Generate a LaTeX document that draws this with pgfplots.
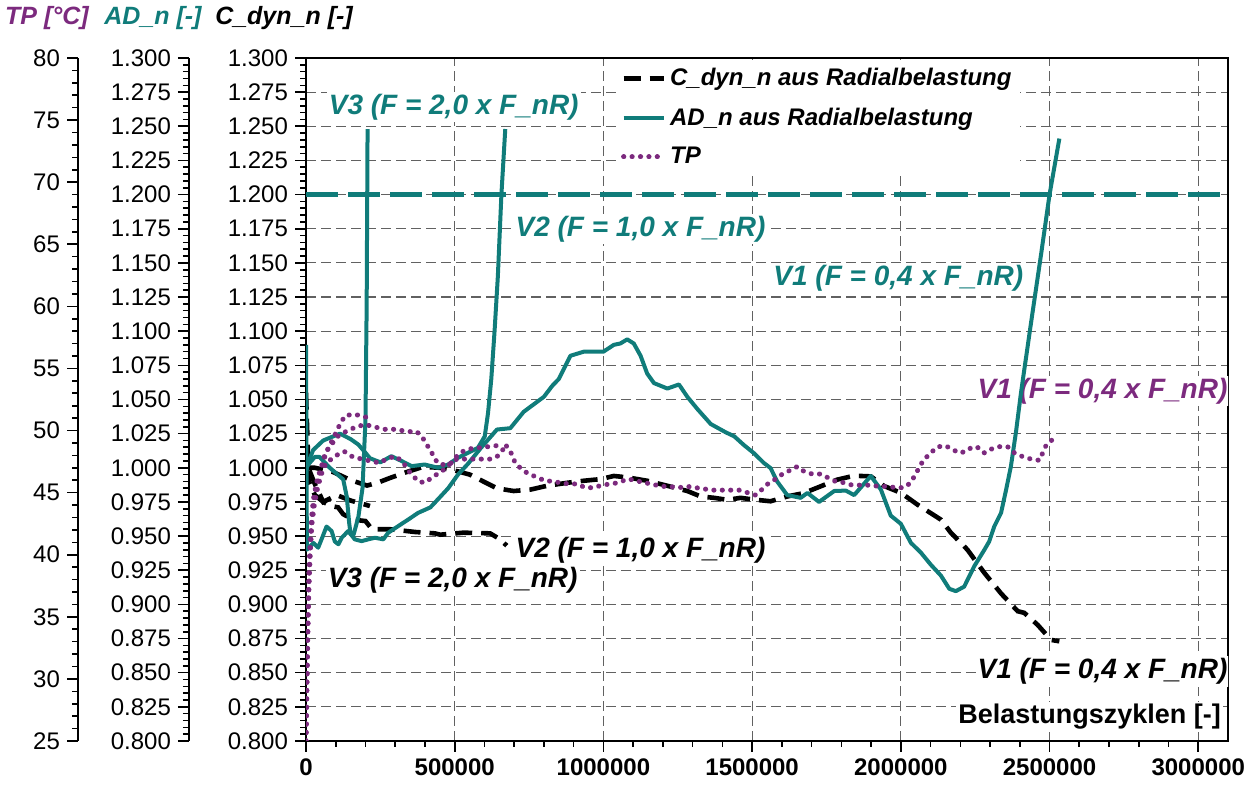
\documentclass[border=0pt]{standalone}
\usepackage{fontspec}
\setmainfont{Liberation Sans}
\usepackage{pgfplots}
\pgfplotsset{compat=1.18}
\definecolor{tealc}{RGB}{16,124,122}
\definecolor{purp}{RGB}{124,42,126}
\tikzset{
  cdyn/.style={black, line width=2.3pt, dash pattern=on 8.5pt off 4.5pt},
  adn/.style={tealc, line width=2pt, line join=round},
  tp/.style={purp, line width=2.5pt, dash pattern=on 0.1pt off 4.1pt, line cap=round},
  annot/.style={inner sep=1pt, font=\bfseries\itshape\fontsize{14}{16}\selectfont},
}
\pgfplotsset{
  myaxis/.style={
    scale only axis, height=341.5pt,
    /pgf/number format/assume math mode=true,
    tick align=outside,
    major tick length=5.5pt, minor tick length=3pt,
    every tick/.style={black, line width=0.8pt},
    tick label style={font=\fontsize{12}{14}\selectfont, black},
    axis line style={line width=1pt},
  },
  cyaxis/.style={
    ymin=0.8, ymax=1.3,
    ytick={0.8,0.825,0.85,0.875,0.9,0.925,0.95,0.975,1,1.025,1.05,1.075,1.1,1.125,1.15,1.175,1.2,1.225,1.25,1.275,1.3},
    minor y tick num=4,
    yticklabel style={/pgf/number format/.cd, fixed, fixed zerofill, precision=3},
  },
}
\begin{document}
\begin{tikzpicture}
\useasboundingbox (0,0) rectangle (627pt,395pt);

% titles
\node[text=purp, font=\bfseries\itshape\fontsize{12.5}{14}\selectfont] at (23.5pt,386pt) {TP [°C]};
\node[text=tealc, font=\bfseries\itshape\fontsize{12.5}{14}\selectfont] at (76.5pt,386pt) {AD\_n [-]};
\node[text=black, font=\bfseries\itshape\fontsize{12.5}{14}\selectfont] at (142pt,386pt) {C\_dyn\_n [-]};

% TP axis
\begin{axis}[myaxis, at={(39pt,24.5pt)}, anchor=south west, width=5pt,
  xmin=0, xmax=1, ymin=25, ymax=80, ytick={25,30,...,80}, minor y tick num=4,
  hide x axis, axis y line*=left]
\addplot[draw=none] coordinates {(0,50)};
\end{axis}

% AD_n axis
\begin{axis}[myaxis, cyaxis, at={(94.5pt,24.5pt)}, anchor=south west, width=5pt,
  xmin=0, xmax=1, hide x axis, axis y line*=left]
\addplot[draw=none] coordinates {(0,1)};
\end{axis}

% main axis
\begin{axis}[myaxis, cyaxis, at={(153pt,24.5pt)}, anchor=south west, width=461pt,
  xmin=0, xmax=3100000,
  xtick={0,500000,1000000,1500000,2000000,2500000,3000000},
  minor x tick num=4, scaled ticks=false,
  xticklabel style={font=\bfseries\fontsize{12}{14}\selectfont, /pgf/number format/.cd, fixed, 1000 sep={}},
  tick pos=left,
  grid=major,
  major grid style={black!62, line width=0.55pt, dash pattern=on 5pt off 2.5pt},
  legend style={at={(rel axis cs:0.337,0.997)}, anchor=north west, draw=none, fill=white,
    font=\bfseries\itshape\fontsize{12}{14}\selectfont, row sep=5.5pt, inner sep=2pt},
  legend cell align=left,
  legend image code/.code={\draw[#1] (0pt,0pt) -- (20pt,0pt);},
]
\addlegendimage{cdyn}
\addlegendentry{C\_dyn\_n aus Radialbelastung}
\addlegendimage{adn}
\addlegendentry{AD\_n aus Radialbelastung}
\addlegendimage{tp}
\addlegendentry{TP}

\node[annot, fill=white, text=tealc] at (axis cs:496600,1.2638) {V3 (F = 2,0 x F\_nR)};
\node[annot, fill=white, text=tealc] at (axis cs:1124600,1.1748) {V2 (F = 1,0 x F\_nR)};
\node[annot, fill=white, text=tealc] at (axis cs:1991600,1.139) {V1 (F = 0,4 x F\_nR)};
\node[annot, fill=white, text=purp] at (axis cs:2678000,1.0559) {V1 (F = 0,4 x F\_nR)};
\node[annot, fill=white, text=black] at (axis cs:1124600,0.9395) {V2 (F = 1,0 x F\_nR)};
\node[annot, fill=white, text=black] at (axis cs:493000,0.9175) {V3 (F = 2,0 x F\_nR)};
\node[annot, fill=white, text=black] at (axis cs:2678000,0.8509) {V1 (F = 0,4 x F\_nR)};
\node[fill=white, text=black, inner sep=1pt, anchor=east, font=\bfseries\fontsize{13.5}{16}\selectfont] at (axis cs:3084000,0.8176) {Belastungszyklen [-]};

% limit line
\addplot[forget plot, tealc, line width=2.5pt, dash pattern=on 16pt off 5pt] coordinates {(0,1.2) (3100000,1.2)};

% C_dyn_n V1
\addplot[forget plot, cdyn] coordinates {
(0,1.000)(30000,1.000)(90000,0.997)(150000,0.991)(205000,0.987)(240000,0.989)(283000,0.9926)(340000,0.997)(394000,1.0007)(450000,1.000)(500000,0.998)(551000,0.995)(596000,0.990)(642000,0.985)(698000,0.983)(754000,0.984)(810000,0.9868)(878000,0.989)(934000,0.9905)(990000,0.9917)(1035000,0.994)(1080000,0.993)(1147000,0.9905)(1215000,0.9868)(1282000,0.983)(1327000,0.979)(1372000,0.978)(1417000,0.9765)(1461000,0.978)(1506000,0.9767)(1562000,0.9755)(1618000,0.979)(1674000,0.9815)(1730000,0.9864)(1786000,0.9913)(1843000,0.9942)(1899000,0.9937)(1944000,0.9866)(2000000,0.9817)(2056000,0.973)(2135000,0.962)(2168000,0.9525)(2224000,0.940)(2281000,0.923)(2337000,0.908)(2393000,0.895)(2415000,0.8938)(2460000,0.885)(2505000,0.874)(2533000,0.873)};
% C_dyn_n V2
\addplot[forget plot, cdyn] coordinates {
(0,1.000)(10000,0.990)(30000,0.980)(58000,0.975)(85000,0.972)(108000,0.971)(125000,0.966)(160000,0.962)(200000,0.961)(222000,0.955)(283000,0.955)(367000,0.953)(433000,0.952)(451000,0.951)(529000,0.9525)(619000,0.952)(650000,0.948)(675000,0.943)};
% C_dyn_n V3
\addplot[forget plot, cdyn] coordinates {
(0,1.055)(8000,1.000)(30000,0.988)(58000,0.975)(104000,0.980)(150000,0.976)(200000,0.973)(215000,0.972)};

% AD_n V1
\addplot[forget plot, adn] coordinates {
(0,1.090)(3000,0.940)(12000,0.942)(25000,0.945)(41000,0.9415)(53000,0.948)(69000,0.957)(86000,0.9537)(97000,0.946)(109000,0.944)(120000,0.9488)(142000,0.9537)(164000,0.9476)(187000,0.9463)(209000,0.9476)(232000,0.9488)(260000,0.9476)(276000,0.9524)(310000,0.9573)(343000,0.962)(377000,0.967)(418000,0.971)(444000,0.977)(478000,0.985)(511000,0.995)(545000,1.003)(586000,1.014)(642000,1.028)(687000,1.029)(732000,1.041)(800000,1.052)(828000,1.060)(850000,1.065)(889000,1.082)(934000,1.085)(1000000,1.085)(1035000,1.090)(1057000,1.091)(1080000,1.094)(1102000,1.091)(1125000,1.082)(1147000,1.069)(1170000,1.062)(1215000,1.058)(1254000,1.061)(1282000,1.052)(1316000,1.043)(1361000,1.032)(1411000,1.026)(1440000,1.023)(1472000,1.0167)(1506000,1.0107)(1540000,1.0034)(1562000,0.9998)(1584000,0.990)(1618000,0.980)(1663000,0.978)(1686000,0.9816)(1725000,0.975)(1776000,0.983)(1815000,0.9833)(1843000,0.980)(1899000,0.994)(1933000,0.984)(1966000,0.965)(2000000,0.959)(2034000,0.945)(2067000,0.938)(2101000,0.929)(2135000,0.921)(2163000,0.9114)(2185000,0.9097)(2213000,0.913)(2247000,0.928)(2281000,0.940)(2297000,0.946)(2314000,0.957)(2337000,0.967)(2354000,0.984)(2370000,1.001)(2387000,1.026)(2404000,1.055)(2439000,1.108)(2472000,1.157)(2500000,1.200)(2533000,1.241)};
% AD_n V2
\addplot[forget plot, adn] coordinates {
(0,0.998)(10000,1.005)(24000,1.013)(58000,1.020)(114000,1.025)(150000,1.021)(176000,1.017)(200000,1.011)(215000,1.007)(250000,1.004)(287000,1.0085)(321000,1.005)(355000,1.0012)(399000,1.0024)(444000,1.000)(478000,1.0024)(511000,1.0073)(545000,1.011)(578000,1.0146)(601000,1.023)(612000,1.040)(623000,1.065)(634000,1.100)(645000,1.140)(657000,1.200)(670000,1.248)};
% AD_n V3
\addplot[forget plot, adn] coordinates {
(0,1.000)(10000,1.003)(30000,1.008)(45000,1.008)(80000,1.000)(125000,0.9915)(137000,0.979)(145000,0.960)(150000,0.951)(160000,0.951)(176000,0.964)(190000,0.985)(200000,1.035)(204000,1.120)(207000,1.248)};
\end{axis}

% TP overlay axis
\begin{axis}[scale only axis, at={(153pt,24.5pt)}, anchor=south west, width=461pt, height=341.5pt,
  xmin=0, xmax=3100000, ymin=25, ymax=80, hide axis]
% TP V1
\addplot[tp] coordinates {
(0,25)(3000,29.5)(6000,33.5)(10000,37.5)(15000,40.5)(20000,42.5)(28000,44)(40000,45.5)(55000,46.7)(70000,47.5)(87000,47.7)(114000,48.2)(130000,48.3)(148000,48.0)(164000,47.8)(193000,47.7)(221000,47.5)(249000,47.4)(277000,47.8)(305000,47.9)(330000,47.3)(350000,46.6)(378000,45.9)(400000,45.8)(428000,46.3)(456000,46.7)(484000,47.3)(507000,47.7)(550000,47.7)(586000,47.7)(620000,47.7)(642000,47.9)(659000,48.3)(670000,48.9)(692000,48.1)(703000,47.4)(720000,47.0)(748000,46.5)(771000,46.3)(799000,46.0)(827000,45.9)(855000,45.8)(883000,45.7)(911000,45.7)(939000,45.4)(967000,45.4)(995000,45.6)(1023000,45.7)(1051000,45.8)(1080000,46.1)(1107000,46.0)(1135000,45.8)(1163000,45.7)(1192000,45.5)(1220000,45.5)(1254000,45.4)(1282000,45.5)(1310000,45.4)(1338000,45.3)(1366000,45.2)(1394000,45.2)(1428000,45.2)(1456000,45.2)(1484000,45.0)(1512000,44.8)(1535000,45.3)(1557000,45.8)(1580000,46.1)(1602000,46.5)(1628000,46.8)(1652000,47.1)(1675000,46.7)(1702000,46.5)(1730000,46.5)(1755000,46.2)(1781000,45.9)(1809000,45.8)(1837000,45.6)(1865000,45.6)(1897000,45.6)(1927000,45.5)(1955000,45.5)(1983000,45.4)(2011000,45.4)(2033000,45.8)(2050000,46.5)(2061000,47.0)(2078000,47.7)(2098000,48.1)(2117000,48.6)(2143000,48.8)(2168000,48.6)(2193000,48.2)(2218000,48.3)(2241000,48.7)(2264000,48.6)(2281000,48.2)(2303000,48.5)(2331000,48.7)(2359000,48.7)(2382000,48.2)(2410000,47.9)(2438000,47.7)(2466000,47.6)(2488000,48.8)(2511000,49.3)};
% TP V2
\addplot[tp] coordinates {
(0,25)(2500,29)(5000,33)(8000,36.5)(12000,39.5)(17000,42)(23000,43.8)(32000,45.2)(45000,46.3)(64000,48.2)(86000,48.9)(110000,49.6)(140000,50.0)(170000,50.3)(200000,50.5)(225000,50.3)(250000,50.2)(266000,50.1)(294000,50.1)(322000,50.0)(344000,49.9)(370000,49.95)(389000,49.55)(406000,48.87)(423000,48.21)(434000,47.66)(451000,47.26)(473000,47.26)(490000,47.41)(507000,47.94)(529000,48.34)(552000,48.53)(580000,48.61)(608000,48.69)(636000,48.76)(664000,48.96)};
% TP V3
\addplot[tp] coordinates {
(0,25)(2000,28.5)(4000,32)(7000,35.5)(10000,38.5)(14000,41)(19000,43)(25000,44.5)(35000,45.8)(50000,47)(70000,48.3)(90000,49.3)(110000,50.3)(131000,51.2)(159000,51.3)(187000,51.2)(210000,51.0)};
\end{axis}
\end{tikzpicture}
\end{document}
